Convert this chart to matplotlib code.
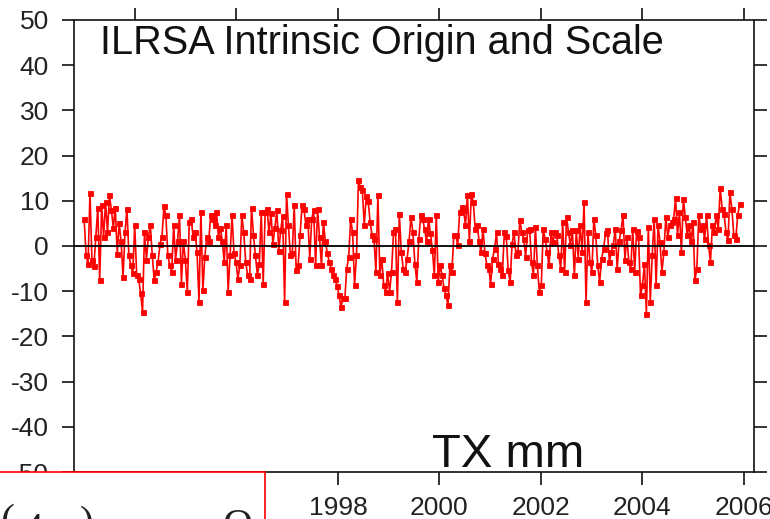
import numpy as np
import pandas as pd
import matplotlib
matplotlib.use("Agg")
import matplotlib.pyplot as plt
from matplotlib.patches import Rectangle

plt.rcParams['font.family'] = ['Liberation Sans', 'DejaVu Sans']

# ---- data (TX, mm), bi-weekly solutions starting Jan 1993 ----
start_date = "1993-01-01"
step_days = 14

tx_1993_1995 = [6, -2, -4, 11.8, -3, -4.5, 2, 8.4, -7.6, 9, 2, 9.7, 3, 11.2, 8, 4, 8.5, -1.7,
                5, 1, -6.8, 3, 8.2, -2, -4.3, -6, 4.6, -6.5, -7.2, -10.5, -14.6, 3, -3, 2, 4.6,
                -2, -7.6, -5.7, -3.5, 0.5, 2, 8.8, 6.8, -2, -4.3, -5.7, 4.6, -3, 1, 6.8, -8.3,
                1, -3, -10.1, 5.3, 6, 2, 3, -1.3, -12.4, 7.6, -9.8, -2.4, 2, 1, 6.8, 6, 4.6]
tx_1995_1998 = [7.5, 2, 4, 1, -3.5, 4.6, -10.1, -2, 6.8, -1.5, -3.5, -7.2, -4.3, 6.8, 3, -3.5,
                -6.5, -7.2, 8.5, 2.4, -2, -6.5, -4, 7.5, -8.3, 7.5, 8.2, 3, 7.2, 0.5, 4, 7.9,
                -1, 3.5, 6.6, -12.4, 11.6, 4.6, -2, -1.5, 9, -5.4, -4.3, 2.4, 9, 8.2, 4.6, 6,
                -2.8, 6, 7.9, -4.3, 8.2, 2, -4.3, 5.3, 1, -1.5, -3.5, -5, -6.5, -7.2, -8.8,
                -10.9, -13.5, -11.6]
tx_1998_2000 = [-11.6, -5, -2.4, 6, 3, -8.7, -2, 14.5, 13, 12.4, 4.6, 11, 10, 5.3, 2.4, 1.5,
                -5.7, 11.2, -6.5, -2.8, -8.7, -10.1, -6, -10.1, -5.7, 3, 3.7, -12.4, 7.1, -1.3,
                -5, -5.7, -2.8, 1, 6.4, 3, -3.9, -8, 1.5, 6.8, 6, 3.7, 1, 6, 2.8, -0.8, -6.5,
                6.8, -8, -4.3, -6.5, -9.4, -10.9, -13.1, -4.3, -5.7, 2.4, 2.4, 0.2, 7.5, 8.6,
                7.9, 4.6, 11.2, 1, 11.6, 9.7, 3.7, 4.6, 1, -1.3, 3.7]
tx_2000_2003 = [-1.5, -4.3, -5, -8.3, -2.8, -0.6, 3, -4, -5, -6.5, 3, 2.2, -5.4, -8, 0.5, 3, -2,
                -1.3, 5.7, 3, 1.5, -2.4, 3.5, 3.8, -3.5, -6.5, 4.2, -4.3, -10.1, -8.7, 3.8, 1.5,
                -1.3, -4.3, 3, 0.8, 3, 2.4, -2, -5, 5.3, -5.7, 6.4, 3, 0.2, 3.5, -6.5, 3.5,
                -2.8, 4.6, -1.3, 9.7, -12.4, 3, -3.5, -5.7, 6, 2.4, -4.3, -8, -2.8, -0.6, 2.8,
                3.5, -3.5, -1.3, 0.2, 3.8, -5]
tx_2003_2006 = [1, 3.5, 6.8, -3, 2, -3.5, -5, 3.8, -5.7, 3.4, 2, -10.9, -8.7, -4, -15, 4.2,
                -12.4, -2, 6, -8.7, 4.6, 0.8, -5.7, -1.3, 6.4, 2, 4.6, 5.3, 6, 10.6, 2.4, 7.5,
                -1.3, 10.4, 6.4, 2.4, 4.6, 1, 5.3, -7.6, -5, 6.8, 3.7, 4.6, 1.5, 6.8, 0.2, -3.5,
                4.6, 3, 6.8, 3.7, 12.8, 8.2, 7, 3, 1.3, 11.9, 8.2, 2.4, 1.5, 6.8, 9.3]

tx = np.array(tx_1993_1995 + tx_1995_1998 + tx_1998_2000 + tx_2000_2003 + tx_2003_2006)
dates = pd.date_range(start_date, periods=len(tx), freq=f"{step_days}D")
years = dates.year + (dates.dayofyear - 1) / 365.25

y_ticks = [50, 40, 30, 20, 10, 0, -10, -20, -30, -40, -50]
x_ticks = [1994, 1996, 1998, 2000, 2002, 2004, 2006]

title = "ILRSA Intrinsic Origin and Scale"
component = "TX mm"

# ---- figure ----
W, H = 770, 519
fig = plt.figure(figsize=(W / 100, H / 100), dpi=100)
ax = fig.add_axes([74 / W, 1 - 472 / H, 680 / W, 452 / H])

ax.plot(years, tx, color='#ff0000', lw=1.2, marker='s', ms=3.6,
        mfc='#ff0000', mec='#ff0000', mew=0.6, zorder=2)
ax.axhline(0, color='black', lw=1.3, zorder=3)

ax.set_xlim(1992.80, 2006.20)
ax.set_ylim(-50, 50)
ax.set_yticks(y_ticks)
ax.set_yticklabels([str(v) for v in y_ticks])
ax.set_xticks(x_ticks)
ax.set_xticklabels([str(v) for v in x_ticks])

for s in ax.spines.values():
    s.set_linewidth(1.2)
    s.set_color('#111111')

ax.tick_params(axis='both', direction='out', length=9, width=1.2, color='#111111',
               labelsize=19, labelcolor='#222222')
ax.tick_params(axis='x', top=True, labeltop=False, pad=8)
ax.tick_params(axis='y', right=True, labelright=False, pad=9)

ax.text(0.038, 0.9248, title, transform=ax.transAxes, fontsize=28.5,
        ha='left', va='baseline', color='#111111')
ax.text(0.5265, 0.011, component, transform=ax.transAxes, fontsize=34,
        ha='left', va='baseline', color='#111111')

# overlapping red-framed box from neighbouring panel (bottom-left)
rect = Rectangle((-3 / W, -0.2), 268 / W, 0.2 + 47 / H, transform=fig.transFigure,
                 facecolor='white', edgecolor='#ff0000', lw=1.2, zorder=10)
fig.add_artist(rect)
for s, xp, yp in [("(", 0, 503), ("4", 22, 512), (")", 80, 505), ("O", 222, 508)]:
    fig.text(xp / W, 1 - yp / H, s, fontsize=30, family='Liberation Serif',
             ha='left', va='top', color='#222222', zorder=11)

fig.savefig("out.png", dpi=100)
